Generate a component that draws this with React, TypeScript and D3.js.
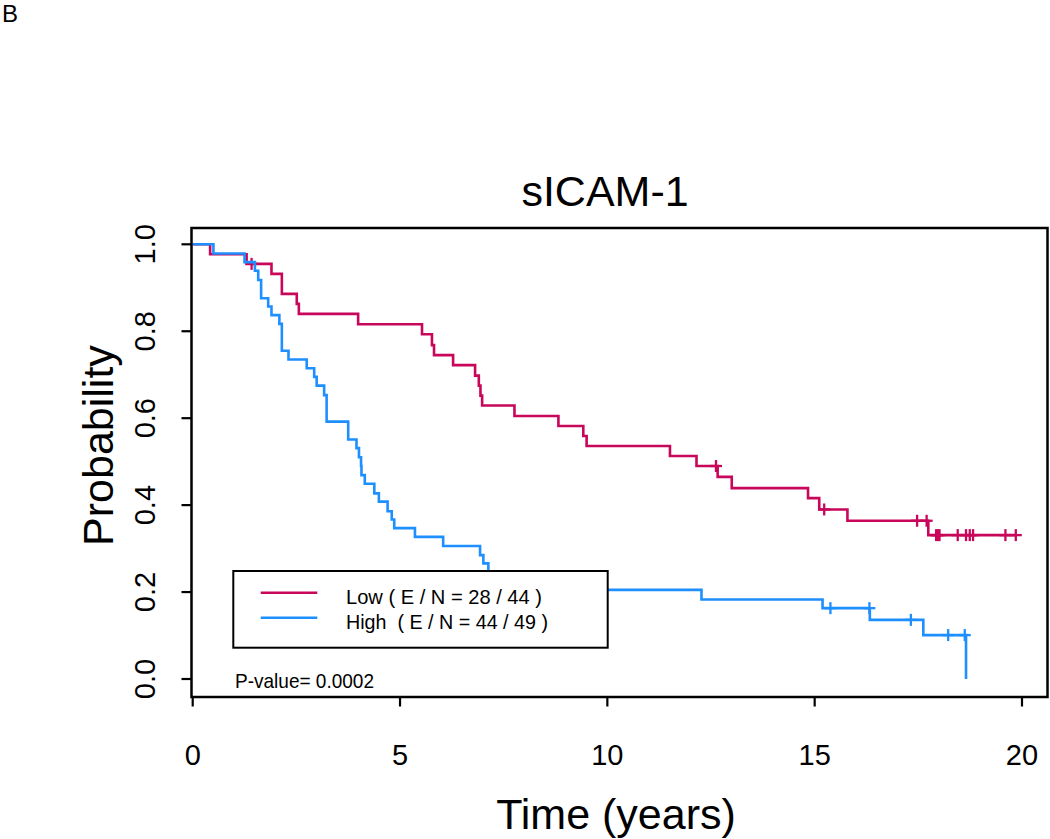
import React from "react";
import * as d3 from "d3";

const title = "sICAM-1";
const panelLabel = "B";
const xLabel = "Time (years)";
const yLabel = "Probability";
const xTicks = [0, 5, 10, 15, 20];
const yTicks = [0, 0.2, 0.4, 0.6, 0.8, 1.0];
const pValueText = "P-value= 0.0002";
const legendLabels = ["Low ( E / N = 28 / 44 )", "High  ( E / N = 44 / 49 )"];

// Low group: event times and survival after each event
const lowTimes = [0, 0.42, 1.30, 1.90, 2.15, 2.51, 2.56, 3.99, 5.53, 5.77, 5.82, 6.28, 6.81, 6.90, 6.94, 6.98, 7.76, 8.82, 9.42, 9.50, 11.51, 12.15, 12.66, 13.00, 14.84, 15.11, 15.79, 17.74, 19.85];
const lowSurv = [1, 0.977, 0.955, 0.932, 0.886, 0.863, 0.840, 0.816, 0.793, 0.768, 0.745, 0.722, 0.698, 0.675, 0.652, 0.629, 0.605, 0.582, 0.559, 0.536, 0.513, 0.490, 0.465, 0.439, 0.416, 0.390, 0.364, 0.331, 0.331];
const lowCensor = [1.42, 12.62, 15.23, 17.47, 17.70, 17.93, 17.97, 18.01, 18.45, 18.65, 18.74, 18.82, 19.60, 19.85];

// High group
const highTimes = [0, 0.50, 1.25, 1.50, 1.58, 1.65, 1.82, 1.90, 2.09, 2.15, 2.31, 2.75, 2.93, 2.99, 3.17, 3.23, 3.75, 3.95, 4.01, 4.06, 4.07, 4.15, 4.38, 4.49, 4.70, 4.80, 4.86, 5.36, 6.04, 6.93, 7.01, 7.13, 7.40, 8.20, 12.27, 15.19, 16.33, 17.62, 18.65];
const highSurv = [1, 0.979, 0.959, 0.939, 0.918, 0.876, 0.857, 0.837, 0.817, 0.755, 0.735, 0.715, 0.695, 0.675, 0.653, 0.592, 0.551, 0.531, 0.510, 0.490, 0.469, 0.449, 0.427, 0.408, 0.386, 0.367, 0.347, 0.327, 0.306, 0.285, 0.266, 0.247, 0.226, 0.205, 0.183, 0.163, 0.136, 0.101, 0.0];
const highCensor = [15.38, 16.32, 17.32, 18.22, 18.62];

const colors = ["#C8075A", "#1E8FFF"];

const W = 1050;
const H = 839;
const FONT = "'Liberation Sans', Arial, Helvetica, sans-serif";

export default function App() {
  const x = d3.scaleLinear().domain([0, 20]).range([192.7, 1022]);
  const y = d3.scaleLinear().domain([0, 1]).range([679, 244.3]);
  const box = { left: 191.5, right: 1047.5, top: 228, bottom: 697 };

  const line = d3
    .line<[number, number]>()
    .x((d) => x(d[0]))
    .y((d) => y(d[1]))
    .curve(d3.curveStepAfter);

  const groups = [
    { times: lowTimes, surv: lowSurv, censor: lowCensor, color: colors[0] },
    { times: highTimes, surv: highSurv, censor: highCensor, color: colors[1] },
  ];

  const survAt = (times: number[], surv: number[], t: number) => {
    const i = d3.bisectRight(times, t) - 1;
    return surv[Math.max(0, i)];
  };

  const legend = { left: 233.3, top: 571, right: 607.7, bottom: 647.7 };
  const legendRows = [
    { label: legendLabels[0], lineY: 592.7, textY: 604, width: 196 },
    { label: legendLabels[1], lineY: 617.7, textY: 628.5, width: 202 },
  ];

  return (
    <svg
      width={W}
      height={H}
      style={{ position: "absolute", left: 0, top: 0, background: "#fff" }}
      fontFamily={FONT}
    >
      <rect x={0} y={0} width={W} height={H} fill="#fff" />
      <text x={2} y={22} fontSize={24} fill="#000">
        {panelLabel}
      </text>
      <text x={605} y={205.5} fontSize={43} textAnchor="middle" fill="#000">
        {title}
      </text>

      {/* curves */}
      {groups.map((g, gi) => {
        const pts: [number, number][] = g.times.map((t, i) => [t, g.surv[i]]);
        return (
          <g key={gi}>
            <path d={line(pts) || ""} fill="none" stroke={g.color} strokeWidth={2.6} />
            {g.censor.map((t, ci) => {
              const cx = x(t);
              const cy = y(survAt(g.times, g.surv, t));
              return (
                <g key={ci} stroke={g.color} strokeWidth={2.3}>
                  <line x1={cx} x2={cx} y1={cy - 6} y2={cy + 6} />
                  <line x1={cx - 6} x2={cx + 6} y1={cy} y2={cy} />
                </g>
              );
            })}
          </g>
        );
      })}

      {/* legend */}
      <rect
        x={legend.left}
        y={legend.top}
        width={legend.right - legend.left}
        height={legend.bottom - legend.top}
        fill="#fff"
        stroke="#000"
        strokeWidth={2}
      />
      {legendRows.map((r, i) => (
        <g key={i}>
          <line x1={260.7} x2={317.3} y1={r.lineY} y2={r.lineY} stroke={colors[i]} strokeWidth={2.5} />
          <text
            x={346}
            y={r.textY}
            fontSize={21}
            fill="#000"
            textLength={r.width}
            lengthAdjust="spacingAndGlyphs"
            style={{ whiteSpace: "pre" }}
          >
            {r.label}
          </text>
        </g>
      ))}

      <text x={235} y={688} fontSize={21} fill="#000" textLength={139} lengthAdjust="spacingAndGlyphs">
        {pValueText}
      </text>

      {/* box */}
      <rect
        x={box.left}
        y={box.top}
        width={box.right - box.left}
        height={box.bottom - box.top}
        fill="none"
        stroke="#000"
        strokeWidth={2.5}
      />

      {/* x axis */}
      {xTicks.map((t) => (
        <g key={t}>
          <line x1={x(t)} x2={x(t)} y1={box.bottom} y2={box.bottom + 9.5} stroke="#000" strokeWidth={2.2} />
          <text x={x(t)} y={764.5} fontSize={29} textAnchor="middle" fill="#000">
            {t}
          </text>
        </g>
      ))}
      <text x={616} y={828.5} fontSize={43} textAnchor="middle" fill="#000">
        {xLabel}
      </text>

      {/* y axis */}
      {yTicks.map((t) => (
        <g key={t}>
          <line x1={box.left - 10} x2={box.left} y1={y(t)} y2={y(t)} stroke="#000" strokeWidth={2.2} />
          <text
            x={155}
            y={y(t)}
            fontSize={29}
            textAnchor="middle"
            fill="#000"
            transform={`rotate(-90, 155, ${y(t)})`}
          >
            {t.toFixed(1)}
          </text>
        </g>
      ))}
      <text
        x={113}
        y={445.5}
        fontSize={43}
        textAnchor="middle"
        fill="#000"
        transform="rotate(-90, 113, 445.5)"
      >
        {yLabel}
      </text>
    </svg>
  );
}
